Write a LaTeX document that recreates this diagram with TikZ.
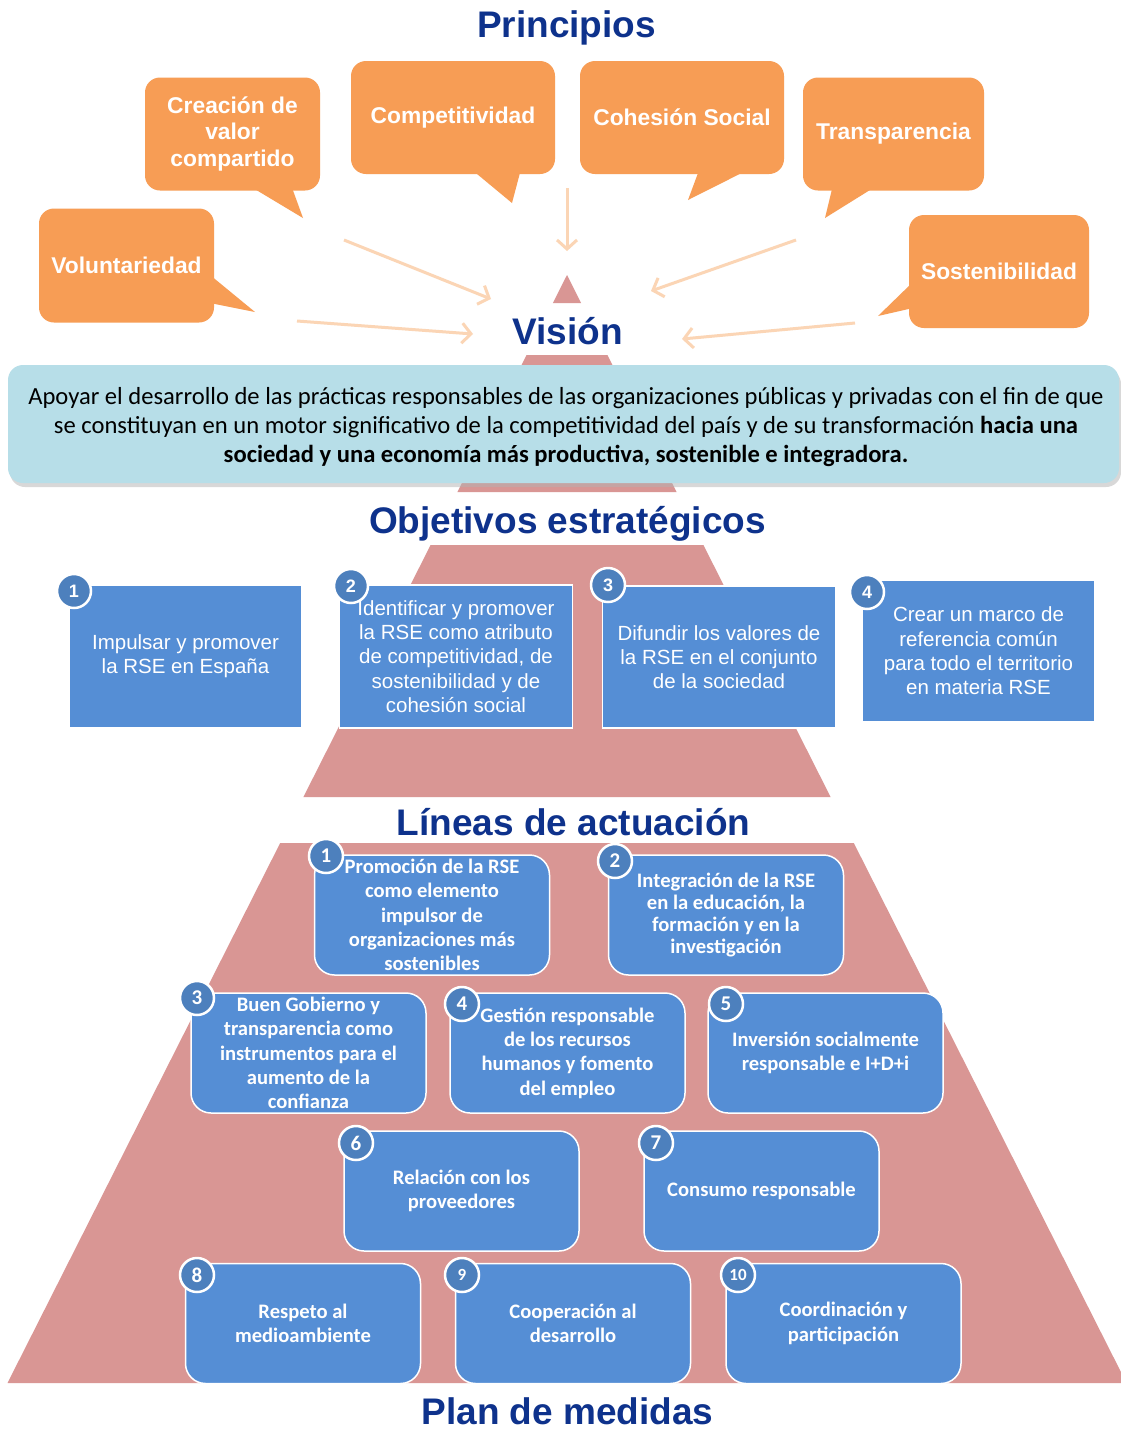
\documentclass[tikz,border=0pt]{standalone}
\usepackage{fontspec}
\setmainfont{Liberation Sans}
\newfontfamily\arialf{Liberation Sans}
\newfontfamily\calf{Carlito}
\usetikzlibrary{arrows.meta,shadows}
\definecolor{orangeb}{RGB}{247,157,85}
\definecolor{peach}{RGB}{251,213,181}
\definecolor{pinkp}{RGB}{217,150,148}
\definecolor{navy}{RGB}{14,50,140}
\definecolor{boxblue}{RGB}{85,142,213}
\definecolor{numblue}{RGB}{77,128,189}
\definecolor{vislight}{RGB}{183,222,232}
\begin{document}
\begin{tikzpicture}[x=1pt,y=-1pt,
  title/.style={font=\arialf\bfseries\fontsize{37}{40}\selectfont, text=navy, inner sep=0pt, anchor=base},
  bubble/.style={fill=orangeb, rounded corners=15pt, inner sep=0pt, text=white, align=center, font=\arialf\bfseries\fontsize{22.8}{26.5}\selectfont},
  tail/.style={fill=orangeb},
  flow/.style={draw=peach, line width=3pt, -{Straight Barb[length=9pt,width=20pt,line width=3pt]}},
  objbox/.style={fill=boxblue, draw=white, line width=1.5pt, inner sep=0pt, text=white, align=center, minimum width=233pt, minimum height=142pt, font=\arialf\fontsize{20.5}{24.3}\selectfont},
  numc/.style={circle, fill=numblue, draw=white, line width=2.5pt, minimum size=34pt, inner sep=0pt, text=white, font=\arialf\bfseries\fontsize{18}{19}\selectfont},
  linbox/.style={fill=boxblue, draw=white, line width=1.5pt, rounded corners=20pt, inner sep=0pt, text=white, align=center, minimum width=235pt, minimum height=120pt, font=\calf\bfseries\fontsize{20.6}{24.4}\selectfont},
  lnum/.style={numc, font=\calf\bfseries\fontsize{21}{22}\selectfont},
  lnums/.style={numc, font=\calf\bfseries\fontsize{17}{18}\selectfont},
  band/.style={fill=pinkp},
]
\useasboundingbox (0,0) rectangle (1121,1430);
\fill[white] (0,0) rectangle (1121,1430);

% pyramid bands
\fill[band] (567,275) -- (581.1,303) -- (552.9,303) -- cycle;
\fill[band] (526.6,355) -- (607.4,355) -- (676.6,492) -- (457.4,492) -- cycle;
\fill[band] (430.6,545) -- (703.4,545) -- (830.6,797) -- (303.4,797) -- cycle;
\fill[band] (280.2,843) -- (853.8,843) -- (1126.5,1383) -- (7.5,1383) -- cycle;

% titles
\node[title] (tprin) at (566.5,37.5) {Principios};
\node[title] (tvis) at (567.5,344) {Visión};
\node[title] (tobj) at (567.5,533) {Objetivos estratégicos};
\node[title] (tlin) at (573.5,835) {Líneas de actuación};
\node[title] (tplan) at (567.5,1424) {Plan de medidas};

% bubbles
\fill[tail] (248,185) -- (291,185) -- (303,218) -- cycle;
\node[bubble, minimum width=175pt, minimum height=113pt] (b1) at (232.5,134) {Creación de\\valor\\compartido};
\fill[tail] (471,169) -- (521,169) -- (512,203) -- cycle;
\node[bubble, minimum width=204pt, minimum height=113pt] (b2) at (453,117.5) {Competitividad};
\fill[tail] (699.5,169) -- (749.6,169) -- (688,200) -- cycle;
\node[bubble, minimum width=204pt, minimum height=113pt] (b3) at (682,117.5) {Cohesión Social};
\fill[tail] (833,185) -- (878,185) -- (825,218) -- cycle;
\node[bubble, minimum width=181pt, minimum height=113pt] (b4) at (893.5,134) {Transparencia};
\fill[tail] (913,282) -- (913,308) -- (878,316) -- cycle;
\node[bubble, minimum width=180pt, minimum height=113pt] (b5) at (999,271.5) {Sostenibilidad};
\fill[tail] (210,275) -- (210,303) -- (255,312) -- cycle;
\node[bubble, minimum width=175pt, minimum height=114pt] (b6) at (126.5,265.5) {Voluntariedad};

% arrows
\coordinate (a1s) at (344,240); \coordinate (a1e) at (491,299);
\coordinate (a2s) at (297,321); \coordinate (a2e) at (473,334);
\coordinate (a3s) at (567,188); \coordinate (a3e) at (567,251);
\coordinate (a4s) at (796,240); \coordinate (a4e) at (651,291);
\coordinate (a5s) at (855,323); \coordinate (a5e) at (682,339);
\draw[flow] (a1s) -- (a1e);
\draw[flow] (a2s) -- (a2e);
\draw[flow] (a3s) -- (a3e);
\draw[flow] (a4s) -- (a4e);
\draw[flow] (a5s) -- (a5e);

% vision box
\node[fill=vislight, rounded corners=15pt, minimum width=1111pt, minimum height=118pt, inner sep=0pt,
  drop shadow={shadow xshift=2pt, shadow yshift=-4pt, fill=black!30, opacity=0.5}] (vision) at (563.5,424) {};
\node[align=center, inner sep=0pt, font=\calf\fontsize{24.6}{29}\selectfont, text=black] (visiontext) at (566,427)
  {Apoyar el desarrollo de las prácticas responsables de las organizaciones públicas y privadas con el fin de que\\
   se constituyan en un motor significativo de la competitividad del país y de su transformación \textbf{hacia una}\\
   \textbf{sociedad y una economía más productiva, sostenible e integradora.}};

% objectives
\node[objbox] (o1) at (185.5,656.5) {Impulsar y promover\\la RSE en España};
\node[objbox, minimum height=143pt] (o2) at (456,656.5) {Identificar y promover\\la RSE como atributo\\de competitividad, de\\sostenibilidad y de\\cohesión social};
\node[objbox] (o3) at (719,657) {Difundir los valores de\\la RSE en el conjunto\\de la sociedad};
\node[objbox] (o4) at (978.5,651) {Crear un marco de\\referencia común\\para todo el territorio\\en materia RSE};
\node[numc] (o1n) at (74,591) {1};
\node[numc] (o2n) at (351,586) {2};
\node[numc] (o3n) at (608,585) {3};
\node[numc] (o4n) at (867,592) {4};

% lineas
\node[linbox] (l1) at (432,915) {Promoción de la RSE\\como elemento\\impulsor de\\organizaciones más\\sostenibles};
\node[linbox, font=\calf\bfseries\fontsize{20.6}{22.3}\selectfont] (l2) at (726,915) {Integración de la RSE\\en la educación, la\\formación y en la\\investigación};
\node[linbox] (l3) at (308.5,1053) {Buen Gobierno y\\transparencia como\\instrumentos para el\\aumento de la\\confianza};
\node[linbox] (l4) at (567.5,1053) {Gestión responsable\\de los recursos\\humanos y fomento\\del empleo};
\node[linbox] (l5) at (825.5,1053) {Inversión socialmente\\responsable e I+D+i};
\node[linbox] (l6) at (461.5,1191) {Relación con los\\proveedores};
\node[linbox] (l7) at (761.5,1191) {Consumo responsable};
\node[linbox] (l8) at (303,1323.5) {Respeto al\\medioambiente};
\node[linbox] (l9) at (573,1323.5) {Cooperación al\\desarrollo};
\node[linbox] (l10) at (843.5,1323.5) {Coordinación y\\participación};
\node[lnum] (l1n) at (326,856) {1};
\node[lnum] (l2n) at (615,861) {2};
\node[lnum] (l3n) at (197,998) {3};
\node[lnum] (l4n) at (462,1004) {4};
\node[lnum] (l5n) at (726,1004) {5};
\node[lnum] (l6n) at (356,1143) {6};
\node[lnum] (l7n) at (656,1143) {7};
\node[lnum] (l8n) at (197,1275) {8};
\node[lnums] (l9n) at (462,1275) {9};
\node[lnums] (l10n) at (738,1275) {10};
\end{tikzpicture}
\end{document}
